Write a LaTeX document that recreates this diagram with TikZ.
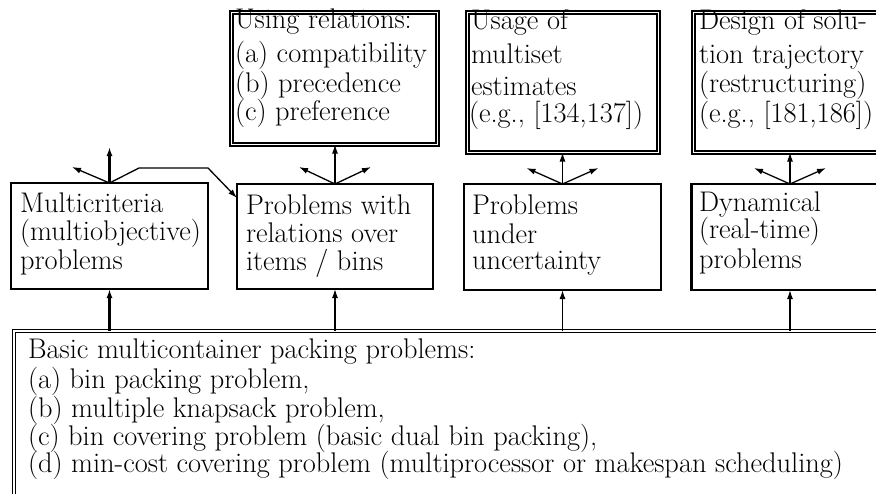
\documentclass[tikz,border=0pt]{standalone}
\usetikzlibrary{arrows.meta}
\begin{document}
\begin{tikzpicture}[x=1pt,y=-1pt,
  every node/.style={inner sep=0pt, outer sep=0pt},
  mbox/.style={draw, line width=2.2pt, minimum width=197pt, minimum height=106pt},
  tbox/.style={draw, double, line width=1.5pt, double distance=1.6pt},
  txt/.style={anchor=base west, text height=16pt, text depth=4pt, font=\fontsize{28.4}{30}\selectfont},
  arr/.style={-{Latex[length=9pt,width=6pt]}, line width=1.3pt},
  arrb/.style={arr, line width=2.2pt}]
\useasboundingbox (0,0) rectangle (876,493);
\clip (0,0) rectangle (876,493);

% middle boxes
\node[mbox] (m1) at (109.5,236) {};
\node[mbox, minimum width=196pt, minimum height=105pt] (m2) at (335,236.5) {};
\node[mbox] (m3) at (562.5,237) {};
\node[mbox] (m4) at (790,237) {};

% top boxes
\node[tbox, minimum width=206pt, minimum height=132pt] (tA) at (334.5,78.5) {};
\node[tbox, minimum width=191pt, minimum height=140pt] (tB) at (563,82.5) {};
\node[tbox, minimum width=191pt, minimum height=140pt] (tC) at (789,82.5) {};

% bottom box
\node[tbox, minimum width=1000pt, minimum height=300pt] (bot) at (514,481) {};

% texts middle
\node[txt] (m1a) at (20,212) {Multicriteria};
\node[txt] (m1b) at (20,240) {(multiobjective)};
\node[txt] (m1c) at (20,269) {problems};
\node[txt] (m2a) at (246,214) {Problems with};
\node[txt] (m2b) at (246,242) {relations over};
\node[txt] (m2c) at (246,270) {items / bins};
\node[txt] (m3a) at (472,214) {Problems};
\node[txt] (m3b) at (472,243) {under};
\node[txt] (m3c) at (472,269) {uncertainty};
\node[txt] (m4a) at (699,211) {Dynamical};
\node[txt] (m4b) at (699,238) {(real-time)};
\node[txt] (m4c) at (699,268) {problems};

% texts top
\node[txt] (tAa) at (235,28) {Using relations:};
\node[txt] (tAb) at (235,62) {(a) compatibility};
\node[txt] (tAc) at (235,92) {(b) precedence};
\node[txt] (tAd) at (235,120) {(c) preference};
\node[txt] (tBa) at (471,29) {Usage of};
\node[txt] (tBb) at (471,63) {multiset};
\node[txt] (tBc) at (471,95) {estimates};
\node[txt] (tBd) at (469,122) {(e.g., [134,137])};
\node[txt] (tCa) at (699,29) {Design of solu-};
\node[txt] (tCb) at (699,63) {tion trajectory};
\node[txt] (tCc) at (699,92) {(restructuring)};
\node[txt] (tCd) at (699,122) {(e.g., [181,186])};

% texts bottom
\node[txt] (b1) at (28,358) {Basic multicontainer packing problems:};
\node[txt] (b2) at (28,388) {(a) bin packing problem,};
\node[txt] (b3) at (28,417) {(b) multiple knapsack problem,};
\node[txt] (b4) at (28,445) {(c) bin covering problem (basic dual bin packing),};
\node[txt] (b5) at (28,472) {(d) min-cost covering problem (multiprocessor or makespan scheduling)};

% arrows from bottom box
\draw[arrb] (m1.south |- bot.north) -- (m1.south);
\draw[arr] (m2.south |- bot.north) -- (m2.south);
\draw[arr] (m3.south |- bot.north) -- (m3.south);
\draw[arr] (m4.south |- bot.north) -- (m4.south);

% arrows from m1
\coordinate (m1up) at (109.5,147);
\coordinate (m1l) at (72,167);
\coordinate (m1r) at (139,168);
\coordinate (m1h) at (208,168);
\coordinate (m2in) at (237,198);
\draw[arrb] (m1.north) -- (m1up);
\draw[arr] (m1.north) -- (m1l);
\draw[arr] (m1.north) -- (m1r) -- (m1h) -- (m2in);

% arrows from m2..m4
\draw[arr] (m2.north) -- (m2.north |- tA.south);
\coordinate (m2l) at (299,167);
\coordinate (m2r) at (371,167);
\draw[arr] (m2.north) -- (m2l);
\draw[arr] (m2.north) -- (m2r);

\draw[arr] (m3.north) -- (m3.north |- tB.south);
\coordinate (m3l) at (526.5,168);
\coordinate (m3r) at (598.5,168);
\draw[arr] (m3.north) -- (m3l);
\draw[arr] (m3.north) -- (m3r);

\draw[arr] (m4.north) -- (m4.north |- tC.south);
\coordinate (m4l) at (754,168);
\coordinate (m4r) at (826,168);
\draw[arr] (m4.north) -- (m4l);
\draw[arr] (m4.north) -- (m4r);
\end{tikzpicture}
\end{document}
